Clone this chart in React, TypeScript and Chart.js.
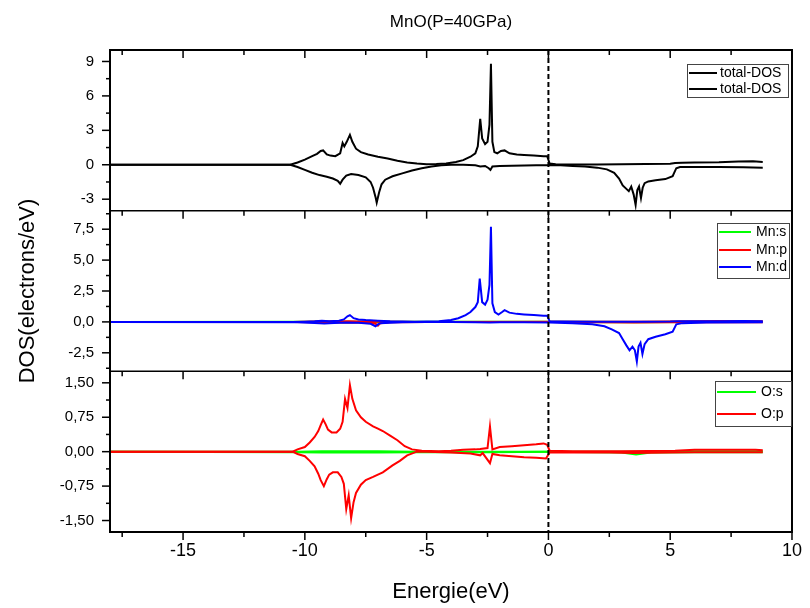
import React, { useEffect, useRef } from "react";
import { Chart, registerables } from "chart.js";

Chart.register(...registerables);

const FONT = "'Liberation Sans', Arial, sans-serif";

const TITLE = "MnO(P=40GPa)";
const X_TITLE = "Energie(eV)";
const Y_TITLE = "DOS(electrons/eV)";

const X_MIN = -18;
const X_MAX = 10;
const X_TICKS = [-15, -10, -5, 0, 5, 10];
const X_TICK_LABELS = ["-15", "-10", "-5", "0", "5", "10"];

// panel 1 (total DOS)
const T_RANGE = [-4, 10];
const T_TICKS = [-3, 0, 3, 6, 9];
const T_TICK_LABELS = ["-3", "0", "3", "6", "9"];
// panel 2 (Mn)
const MN_RANGE = [-4, 9];
const MN_TICKS = [-2.5, 0, 2.5, 5, 7.5];
const MN_TICK_LABELS = ["-2,5", "0,0", "2,5", "5,0", "7,5"];
// panel 3 (O)
const O_RANGE = [-1.75, 1.75];
const O_TICKS = [-1.5, -0.75, 0, 0.75, 1.5];
const O_TICK_LABELS = ["-1,50", "-0,75", "0,00", "0,75", "1,50"];

// ---- total DOS, spin up
const TOT_UP_E = [-18, -10.6, -10.3, -10.0, -9.7, -9.5, -9.35, -9.25, -9.1, -8.95, -8.75, -8.55, -8.45, -8.38, -8.28, -8.15, -8.05, -7.9, -7.7, -7.4, -7.0, -6.6, -6.2, -5.8, -5.4, -5.0, -4.6, -4.2, -3.8, -3.5, -3.2, -3.0, -2.9, -2.8, -2.72, -2.6, -2.5, -2.42, -2.36, -2.3, -2.22, -2.1, -1.95, -1.8, -1.6, -1.3, -1.0, -0.6, -0.2, -0.05, 0.05, 0.3, 1, 2, 3, 4, 5, 5.2, 5.5, 6, 7, 7.8, 8.4, 8.8];
const TOT_UP = [0, 0, 0.2, 0.45, 0.75, 0.95, 1.2, 1.25, 0.9, 0.8, 0.75, 1.0, 1.9, 1.6, 2.0, 2.6, 2.0, 1.4, 1.1, 0.9, 0.7, 0.55, 0.35, 0.2, 0.1, 0.05, 0.06, 0.12, 0.25, 0.4, 0.7, 1.0, 1.6, 4.0, 2.3, 1.8, 2.0, 3.5, 8.8, 2.0, 1.1, 1.0, 1.2, 1.25, 1.0, 0.9, 0.85, 0.8, 0.75, 0.75, 0.1, 0.05, 0.03, 0.03, 0.05, 0.06, 0.08, 0.15, 0.18, 0.2, 0.22, 0.28, 0.3, 0.25];

// ---- total DOS, spin down
const TOT_DN_E = [-18, -10.6, -10.3, -10.0, -9.7, -9.4, -9.1, -8.85, -8.65, -8.55, -8.45, -8.3, -8.1, -7.8, -7.5, -7.3, -7.2, -7.1, -7.05, -6.95, -6.85, -6.7, -6.4, -6.0, -5.6, -5.2, -4.8, -4.4, -4.0, -3.5, -3.0, -2.8, -2.6, -2.45, -2.38, -2.3, -2.0, -1.5, -1.0, -0.5, -0.05, 0.05, 0.5, 1.0, 1.5, 2.0, 2.4, 2.7, 2.9, 3.05, 3.2, 3.3, 3.4, 3.5, 3.58, 3.65, 3.72, 3.8, 3.87, 3.95, 4.1, 4.4, 4.8, 5.1, 5.25, 5.4, 6.0, 7.0, 8.0, 8.8];
const TOT_DN = [0, 0, -0.2, -0.45, -0.7, -0.9, -1.05, -1.2, -1.4, -1.65, -1.3, -0.95, -0.8, -0.9, -1.1, -1.5, -2.0, -2.8, -3.3, -2.4, -1.7, -1.3, -1.0, -0.75, -0.5, -0.3, -0.15, -0.05, 0.0, 0.0, -0.05, -0.15, -0.1, -0.3, -0.45, -0.15, -0.1, -0.08, -0.06, -0.05, -0.05, -0.02, -0.05, -0.1, -0.15, -0.25, -0.4, -0.7, -1.2, -1.8, -2.1, -2.3, -1.9, -2.6, -3.5, -2.2, -1.9, -2.9, -2.0, -1.6, -1.45, -1.35, -1.25, -1.0, -0.3, -0.2, -0.2, -0.2, -0.22, -0.25];

// ---- Mn:s
const MN_S_E = [-18, -10, -8.2, -6, -2.4, 0, 3.6, 6, 8.8];
const MN_S_UP = [0, 0.01, 0.02, 0.01, 0.02, 0.01, 0.0, 0.01, 0.01];
const MN_S_DN = [0, -0.01, -0.02, -0.01, -0.01, 0, -0.02, -0.01, -0.01];

// ---- Mn:p
const MN_P_E = [-18, -10.5, -9.5, -8.2, -7.3, -7.1, -7.0, -6.9, -6.5, -5, 0, 2, 3.5, 5, 6, 7, 8, 8.8];
const MN_P_UP = [0, 0, 0.03, 0.05, 0.02, 0.02, 0.02, 0.02, 0.02, 0, 0.02, 0.01, 0.02, 0.03, 0.05, 0.08, 0.06, 0.05];
const MN_P_DN = [0, 0, -0.03, -0.05, -0.05, -0.15, -0.3, -0.1, -0.02, 0, -0.01, -0.02, -0.05, -0.03, -0.02, -0.03, -0.02, -0.02];

// ---- Mn:d
const MN_D_UP_E = [-18, -10.5, -10, -9.6, -9.3, -9.0, -8.6, -8.4, -8.25, -8.15, -8.0, -7.8, -7.5, -7.0, -6.5, -6.0, -5.5, -5.0, -4.5, -4.0, -3.7, -3.4, -3.2, -3.0, -2.9, -2.82, -2.72, -2.6, -2.5, -2.42, -2.36, -2.3, -2.2, -2.05, -1.9, -1.8, -1.6, -1.3, -1.0, -0.6, -0.2, -0.05, 0.05, 0.5, 2, 4, 5, 5.3, 6, 7, 8, 8.8];
const MN_D_UP = [0, 0, 0.02, 0.05, 0.1, 0.05, 0.1, 0.2, 0.45, 0.55, 0.3, 0.2, 0.15, 0.1, 0.05, 0.03, 0.02, 0.03, 0.06, 0.15, 0.3, 0.55, 0.8, 1.2, 1.6, 3.5, 1.6, 1.4, 1.8, 3.0, 7.7, 1.5, 0.8, 0.6, 0.8, 0.95, 0.75, 0.65, 0.6, 0.55, 0.5, 0.5, 0.05, 0.03, 0.02, 0.02, 0.03, 0.05, 0.06, 0.06, 0.07, 0.06];
const MN_D_DN_E = [-18, -10.3, -9.6, -9.2, -8.8, -8.3, -7.8, -7.3, -7.1, -7.0, -6.9, -6.5, -6.0, -5.0, -4.0, -3.0, -2.4, -2.0, -1.0, 0.05, 1.0, 1.8, 2.3, 2.6, 2.9, 3.05, 3.2, 3.33, 3.45, 3.55, 3.63, 3.7, 3.78, 3.86, 3.95, 4.1, 4.4, 4.8, 5.1, 5.25, 5.5, 6.5, 8.8];
const MN_D_DN = [0, -0.02, -0.08, -0.12, -0.08, -0.05, -0.07, -0.15, -0.35, -0.2, -0.1, -0.06, -0.03, -0.01, -0.01, -0.02, -0.05, -0.02, -0.02, -0.05, -0.1, -0.2, -0.35, -0.6, -0.9, -1.4, -1.9, -2.3, -2.0, -2.3, -3.2, -2.0, -1.7, -2.6, -1.8, -1.4, -1.2, -1.0, -0.8, -0.2, -0.1, -0.05, -0.03];

// ---- O:s
const O_S_E = [-18, -10.3, -9.3, -8.2, -7, -5.5, -2.4, 0, 3.0, 3.6, 4.2, 6, 8.8];
const O_S_UP = [0, 0.0, 0.01, 0.01, 0.01, 0.0, 0.0, 0.0, 0.0, 0.0, 0.0, 0.01, 0.01];
const O_S_DN = [0, -0.01, -0.02, -0.02, -0.02, -0.01, -0.01, 0.0, -0.02, -0.06, -0.02, -0.01, -0.01];

// ---- O:p
const O_P_UP_E = [-18, -10.5, -10.3, -10.0, -9.8, -9.6, -9.45, -9.35, -9.25, -9.15, -9.05, -8.9, -8.7, -8.55, -8.45, -8.35, -8.25, -8.15, -8.05, -7.9, -7.7, -7.5, -7.2, -7.0, -6.8, -6.5, -6.2, -5.9, -5.6, -5.2, -4.5, -4.0, -3.5, -3.0, -2.8, -2.5, -2.4, -2.3, -2.0, -1.5, -1.0, -0.5, -0.2, -0.05, 0.05, 1, 3, 5.2, 6, 7, 8.5, 8.8];
const O_P_UP = [0, 0, 0.05, 0.1, 0.2, 0.32, 0.45, 0.58, 0.7, 0.6, 0.48, 0.42, 0.42, 0.5, 0.65, 1.15, 0.95, 1.45, 1.15, 0.9, 0.75, 0.65, 0.55, 0.5, 0.45, 0.35, 0.25, 0.12, 0.05, 0.02, 0.01, 0.02, 0.04, 0.05, 0.06, 0.08, 0.55, 0.05, 0.1, 0.12, 0.14, 0.16, 0.18, 0.15, 0.02, 0.01, 0.01, 0.02, 0.04, 0.04, 0.04, 0.03];
const O_P_DN_E = [-18, -10.5, -10.3, -10.0, -9.8, -9.6, -9.45, -9.35, -9.22, -9.1, -9.0, -8.85, -8.65, -8.5, -8.4, -8.3, -8.2, -8.1, -8.0, -7.9, -7.7, -7.5, -7.2, -7.0, -6.8, -6.4, -6.1, -5.8, -5.4, -5.0, -4.0, -3.2, -2.8, -2.7, -2.4, -2.3, -2.0, -1.5, -1.0, -0.5, -0.1, 0.05, 2, 3.5, 5, 6, 8.8];
const O_P_DN = [0, 0, -0.05, -0.1, -0.2, -0.32, -0.48, -0.62, -0.75, -0.6, -0.5, -0.45, -0.45, -0.55, -0.7, -1.25, -0.95, -1.45, -1.1, -0.9, -0.72, -0.62, -0.55, -0.5, -0.45, -0.3, -0.2, -0.08, 0, 0, -0.02, -0.04, -0.08, -0.03, -0.25, -0.05, -0.08, -0.1, -0.12, -0.13, -0.15, -0.02, -0.01, -0.03, -0.02, -0.01, -0.01];

const GREEN = "#00ff00";
const RED = "#ff0000";
const BLUE = "#0000ff";
const BLACK = "#000000";

const pts = (xs: number[], ys: number[]) => xs.map((x, i) => ({ x, y: ys[i] }));

const ds = (label: string, xs: number[], ys: number[], color: string, axis: string, order: number) => ({
  label,
  data: pts(xs, ys),
  borderColor: color,
  backgroundColor: color,
  borderWidth: 2,
  pointRadius: 0,
  tension: 0,
  fill: false,
  yAxisID: axis,
  xAxisID: "x",
  order,
});

const LEGENDS = [
  { axis: "yT", items: [["total-DOS", BLACK], ["total-DOS", BLACK]] },
  { axis: "yMn", items: [["Mn:s", GREEN], ["Mn:p", RED], ["Mn:d", BLUE]] },
  { axis: "yO", items: [["O:s", GREEN], ["O:p", RED]] },
];

const framePlugin = {
  id: "frame",
  afterDatasetsDraw(chart: any) {
    const ctx = chart.ctx;
    const ca = chart.chartArea;
    const xs = chart.scales.x;
    const panels = [chart.scales.yT, chart.scales.yMn, chart.scales.yO];
    const panelTicks = [
      { ticks: T_TICKS, step: 3 },
      { ticks: MN_TICKS, step: 2.5 },
      { ticks: O_TICKS, step: 0.75 },
    ];
    ctx.save();
    // dashed line at E = 0
    const x0 = xs.getPixelForValue(0);
    ctx.strokeStyle = BLACK;
    ctx.lineWidth = 2;
    ctx.setLineDash([5, 3]);
    ctx.beginPath();
    ctx.moveTo(x0, ca.top);
    ctx.lineTo(x0, ca.bottom);
    ctx.stroke();
    ctx.setLineDash([]);

    // frame
    ctx.lineWidth = 2;
    ctx.strokeRect(ca.left, ca.top, ca.right - ca.left, ca.bottom - ca.top);
    ctx.lineWidth = 1.5;
    for (let i = 1; i < panels.length; i++) {
      ctx.beginPath();
      ctx.moveTo(ca.left, panels[i].top);
      ctx.lineTo(ca.right, panels[i].top);
      ctx.stroke();
    }
    // x ticks on each panel bottom + top of panel 1 (all pointing down)
    const edges = [ca.top, ...panels.map((p: any) => p.bottom)];
    for (const yEdge of edges) {
      for (let v = -17.5; v <= X_MAX; v += 2.5) {
        const major = Math.abs(v % 5) < 1e-6;
        const px = xs.getPixelForValue(v);
        ctx.beginPath();
        ctx.moveTo(px, yEdge);
        ctx.lineTo(px, yEdge + (major ? 8 : 5));
        ctx.stroke();
      }
    }
    // y ticks (pointing left)
    panels.forEach((p: any, i: number) => {
      const { ticks, step } = panelTicks[i];
      const all: number[] = [];
      ticks.forEach((t) => {
        all.push(t);
        all.push(t + step / 2);
        all.push(t - step / 2);
      });
      const uniq = Array.from(new Set(all.map((v) => Math.round(v * 1000) / 1000)));
      uniq.forEach((v) => {
        if (v <= p.min || v >= p.max) return;
        const major = ticks.some((t) => Math.abs(t - v) < 1e-6);
        const py = p.getPixelForValue(v);
        ctx.beginPath();
        ctx.moveTo(ca.left, py);
        ctx.lineTo(ca.left - (major ? 8 : 4), py);
        ctx.stroke();
      });
    });

    // legends
    const legendBoxes = [
      { x: 687, y: 64, w: 101, h: 33, rowY: [73, 89], lineX: [689, 717], textX: 720 },
      { x: 717, y: 223, w: 72, h: 55, rowY: [232, 250, 267], lineX: [719, 751], textX: 756 },
      { x: 715, y: 381, w: 76, h: 45, rowY: [392, 414], lineX: [717, 756], textX: 761 },
    ];
    ctx.font = `14px ${FONT}`;
    ctx.textBaseline = "middle";
    ctx.textAlign = "left";
    LEGENDS.forEach((lg, i) => {
      const b = legendBoxes[i];
      ctx.fillStyle = "#ffffff";
      ctx.fillRect(b.x, b.y, b.w, b.h);
      ctx.strokeStyle = "#444444";
      ctx.lineWidth = 1;
      ctx.strokeRect(b.x + 0.5, b.y + 0.5, b.w, b.h);
      lg.items.forEach(([name, color], j) => {
        const ry = b.rowY[j];
        ctx.strokeStyle = color;
        ctx.lineWidth = 2;
        ctx.beginPath();
        ctx.moveTo(b.lineX[0], ry);
        ctx.lineTo(b.lineX[1], ry);
        ctx.stroke();
        ctx.fillStyle = BLACK;
        ctx.fillText(name, b.textX, ry);
      });
    });

    // titles
    ctx.fillStyle = BLACK;
    ctx.textAlign = "center";
    ctx.textBaseline = "middle";
    const cx = (ca.left + ca.right) / 2;
    ctx.font = `17px ${FONT}`;
    ctx.fillText(TITLE, cx, 22);
    ctx.font = `22px ${FONT}`;
    ctx.fillText(X_TITLE, cx, 592);
    ctx.save();
    ctx.translate(28, (ca.top + ca.bottom) / 2);
    ctx.rotate(-Math.PI / 2);
    ctx.fillText(Y_TITLE, 0, 0);
    ctx.restore();
    ctx.restore();
  },
};

const makeY = (range: number[], ticks: number[], labels: string[]) => ({
  type: "linear",
  position: "left",
  stack: "panels",
  stackWeight: 1,
  min: range[0],
  max: range[1],
  afterBuildTicks: (axis: any) => {
    axis.ticks = ticks.map((v) => ({ value: v }));
  },
  afterFit: (axis: any) => {
    axis.width = 110;
  },
  grid: { display: false, drawTicks: false },
  border: { display: false },
  ticks: {
    padding: 16,
    color: BLACK,
    font: { family: FONT, size: 15 },
    callback: (v: number) => {
      const i = ticks.findIndex((t) => Math.abs(t - v) < 1e-9);
      return i >= 0 ? labels[i] : "";
    },
  },
});

export default function App() {
  const ref = useRef<HTMLCanvasElement | null>(null);
  useEffect(() => {
    if (!ref.current) return;
    // lower "order" is drawn on top
    const chart = new Chart(ref.current, {
      type: "line",
      data: {
        datasets: [
          ds("total-DOS", TOT_UP_E, TOT_UP, BLACK, "yT", 1),
          ds("total-DOS", TOT_DN_E, TOT_DN, BLACK, "yT", 1),
          ds("Mn:s", MN_S_E, MN_S_UP, GREEN, "yMn", 3),
          ds("Mn:s", MN_S_E, MN_S_DN, GREEN, "yMn", 3),
          ds("Mn:p", MN_P_E, MN_P_UP, RED, "yMn", 2),
          ds("Mn:p", MN_P_E, MN_P_DN, RED, "yMn", 2),
          ds("Mn:d", MN_D_UP_E, MN_D_UP, BLUE, "yMn", 1),
          ds("Mn:d", MN_D_DN_E, MN_D_DN, BLUE, "yMn", 1),
          ds("O:s", O_S_E, O_S_UP, GREEN, "yO", 2),
          ds("O:s", O_S_E, O_S_DN, GREEN, "yO", 2),
          ds("O:p", O_P_UP_E, O_P_UP, RED, "yO", 1),
          ds("O:p", O_P_DN_E, O_P_DN, RED, "yO", 1),
        ],
      },
      options: {
        animation: false,
        responsive: false,
        devicePixelRatio: 1,
        layout: { padding: { top: 50, right: 12, bottom: 0, left: 0 } },
        plugins: { legend: { display: false }, tooltip: { enabled: false }, title: { display: false } },
        scales: {
          x: {
            type: "linear",
            position: "bottom",
            min: X_MIN,
            max: X_MAX,
            afterBuildTicks: (axis: any) => {
              axis.ticks = X_TICKS.map((v) => ({ value: v }));
            },
            afterFit: (axis: any) => {
              axis.height = 76;
            },
            grid: { display: false, drawTicks: false },
            border: { display: false },
            ticks: {
              padding: 8,
              maxRotation: 0,
              color: BLACK,
              font: { family: FONT, size: 18 },
              callback: (v: number) => {
                const i = X_TICKS.findIndex((t) => Math.abs(t - v) < 1e-9);
                return i >= 0 ? X_TICK_LABELS[i] : "";
              },
            },
          },
          yO: makeY(O_RANGE, O_TICKS, O_TICK_LABELS),
          yMn: makeY(MN_RANGE, MN_TICKS, MN_TICK_LABELS),
          yT: makeY(T_RANGE, T_TICKS, T_TICK_LABELS),
        } as any,
      },
      plugins: [framePlugin],
    } as any);
    return () => chart.destroy();
  }, []);
  return (
    <div style={{ position: "absolute", left: 0, top: 0, width: 810, height: 608, background: "#fff" }}>
      <canvas ref={ref} width={810} height={608} style={{ width: 810, height: 608, display: "block" }} />
    </div>
  );
}
